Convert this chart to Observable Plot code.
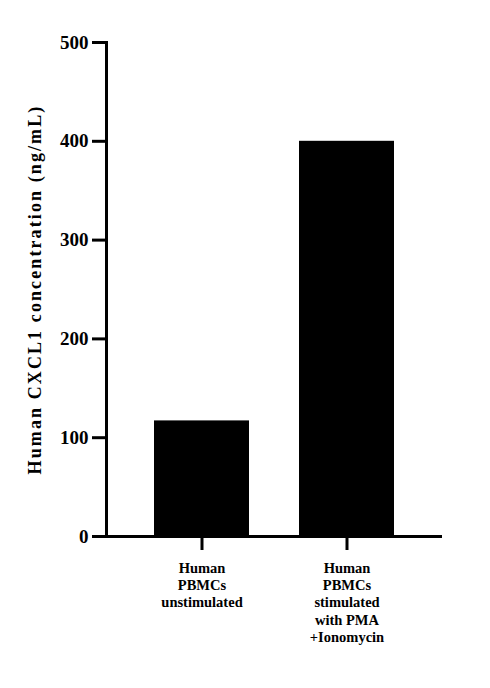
<!DOCTYPE html>
<html><head><meta charset="utf-8">
<script src="https://cdn.jsdelivr.net/npm/d3@7"></script>
<script src="https://cdn.jsdelivr.net/npm/@observablehq/plot@0.6"></script>
<style>
body{margin:0;background:#fff}
#chart svg, #chart svg text{font-family:"Liberation Serif","Times New Roman",Times,serif !important;font-weight:bold}
</style></head><body><div id="chart"></div>
<script>
const categories = ["Human\nPBMCs\nunstimulated", "Human\nPBMCs\nstimulated\nwith PMA\n+Ionomycin"];
const values = [117, 400];
const yTicks = [0, 100, 200, 300, 400, 500];
const yLabel = "Human CXCL1 concentration (ng/mL)";
const data = categories.map((c, i) => ({category: c, value: values[i]}));

const chart = Plot.plot({
  width: 490, height: 688,
  marginLeft: 106, marginRight: 48, marginTop: 42, marginBottom: 152,
  style: {background: "#fff", color: "#000", overflow: "visible"},
  x: {domain: categories, paddingInner: 0.345, paddingOuter: 0.331},
  y: {domain: [0, 500]},
  marks: [
    Plot.barY(data, {x: "category", y: "value", fill: "#000"}),
    Plot.axisY({ticks: yTicks, tickSize: 14, strokeWidth: 3, tickPadding: 4, fontSize: 19, label: null}),
    Plot.axisX({tickSize: 14, strokeWidth: 3, tickPadding: 10, fontSize: 14.5, lineHeight: 1.19, label: null}),
    Plot.ruleY([0], {strokeWidth: 3}),
    Plot.frame({anchor: "left", strokeWidth: 3}),
    Plot.text([yLabel], {frameAnchor: "left", textAnchor: "middle", rotate: -90, dx: -71, fontSize: 18, fontWeight: "bold"})
  ]
});
d3.select(chart).selectAll("text").filter(function() { return this.textContent === yLabel; }).style("letter-spacing", "2.1px");
document.getElementById("chart").append(chart);
</script></body></html>
